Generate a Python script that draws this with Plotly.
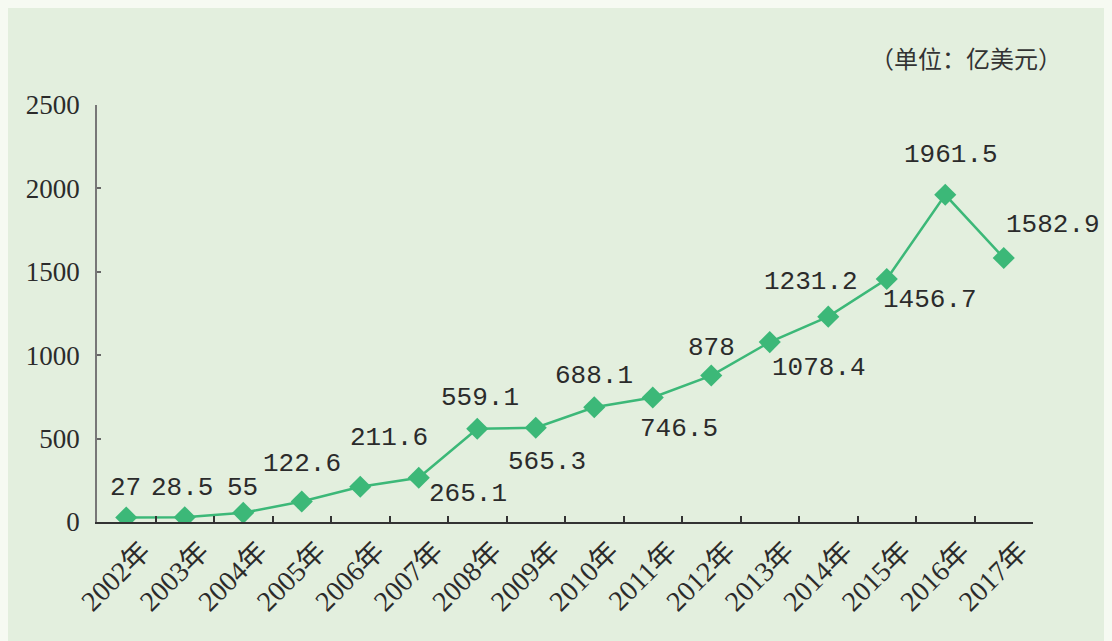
import plotly.graph_objects as go

years = ["2002年", "2003年", "2004年", "2005年", "2006年", "2007年", "2008年", "2009年",
         "2010年", "2011年", "2012年", "2013年", "2014年", "2015年", "2016年", "2017年"]
values = [27, 28.5, 55, 122.6, 211.6, 265.1, 559.1, 565.3,
          688.1, 746.5, 878, 1078.4, 1231.2, 1456.7, 1961.5, 1582.9]
labels = ["27", "28.5", "55", "122.6", "211.6", "265.1", "559.1", "565.3",
          "688.1", "746.5", "878", "1078.4", "1231.2", "1456.7", "1961.5", "1582.9"]
y_ticks = [0, 500, 1000, 1500, 2000, 2500]
unit_text = "（单位：亿美元）"

# label offsets (pixels) relative to each point
dx = [-1, -3, -1, 0, 29, 49, 3, 11, 0, 26, 0, 49, -17, 43, 6, 49]
dy = [30, 29, 25, 38, 49, -16, 31, -34, 31, -32, 28, -26, 35, -21, 40, 33]

GREEN = "#3cb878"
BG = "#e3efde"
OUTER = "#f6faf2"

fig = go.Figure()
fig.add_trace(go.Scatter(
    x=years, y=values, mode="lines+markers",
    line=dict(color=GREEN, width=2.5),
    marker=dict(symbol="diamond", size=17, color=GREEN),
    hoverinfo="skip", showlegend=False,
))

for i, (yr, v, t) in enumerate(zip(years, values, labels)):
    fig.add_annotation(x=yr, y=v, text=t, showarrow=False,
                       xshift=dx[i], yshift=dy[i],
                       font=dict(family="Liberation Mono", size=26, color="#2b2b2b"))

fig.add_annotation(xref="paper", yref="paper", x=1.033, y=1.115, xanchor="right", yanchor="middle",
                   text=unit_text, showarrow=False,
                   font=dict(family="Noto Sans CJK SC", size=24, color="#333333"))

fig.update_layout(
    width=1112, height=641,
    margin=dict(l=89, r=87, t=97, b=127),
    paper_bgcolor=BG, plot_bgcolor=BG,
    xaxis=dict(type="category", range=[-0.5, 15.5], tickson="boundaries",
               ticks="inside", ticklen=6, tickcolor="#333333", tickwidth=1.5,
               showline=True, linecolor="#333333", linewidth=1.5,
               showgrid=False, zeroline=False, tickangle=-45, ticklabelshift=16,
               tickfont=dict(family="Liberation Serif, Noto Sans CJK SC", size=28, color="#2b2b2b")),
    yaxis=dict(range=[0, 2500], tickvals=y_ticks,
               ticks="inside", ticklen=4, tickcolor="#666666", tickwidth=1.5,
               showline=True, linecolor="#777777", linewidth=1.5,
               showgrid=False, zeroline=False, ticklabelstandoff=10,
               tickfont=dict(family="Liberation Serif", size=27, color="#2b2b2b")),
)

fig.write_html("out.html", post_script="document.body.style.background='" + OUTER + "';")
